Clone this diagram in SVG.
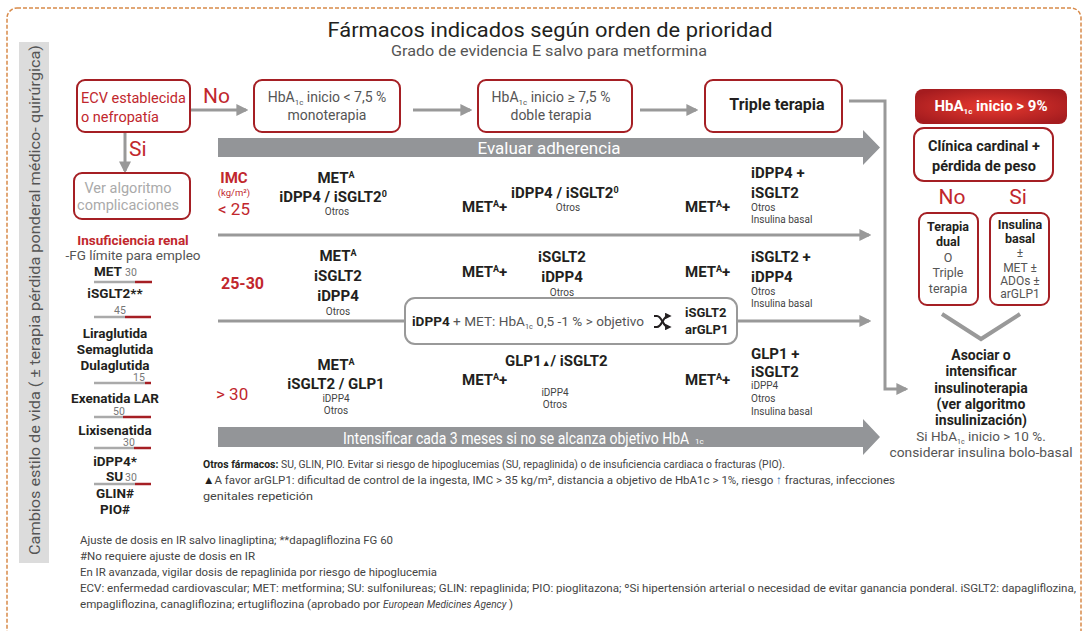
<svg xmlns="http://www.w3.org/2000/svg" width="1089" height="631" viewBox="0 0 1089 631">
<style>
text{font-family:Roboto,"Liberation Sans",sans-serif}
.bx{fill:#fff;stroke:#a51f24;stroke-width:2}
.b{font-weight:bold;fill:#231f20}
.g{fill:#555}
.r{fill:#c1272d}
.d{font-size:15px;font-weight:bold;fill:#231f20}
.s{font-size:10px;fill:#444}
.ln{stroke:#999;stroke-width:3;fill:none}
.fn{font-size:11.5px;fill:#444}
.rn{font-size:13.5px;font-weight:bold;fill:#231f20}
.nm{font-size:10.5px;fill:#777}
</style>
<defs>
<marker id="ah" viewBox="0 0 10 10" refX="8" refY="5" markerWidth="4" markerHeight="4" orient="auto">
<path d="M0,0 L10,5 L0,10 z" fill="#999"/>
</marker>
<marker id="ak" viewBox="0 0 10 10" refX="6" refY="5" markerWidth="3" markerHeight="3" orient="auto">
<path d="M0,0 L10,5 L0,10 z" fill="#231f20"/>
</marker>
<radialGradient id="rg" cx="0.5" cy="0.5" r="0.6">
<stop offset="0" stop-color="#e8392f"/>
<stop offset="1" stop-color="#a51c1f"/>
</radialGradient>
</defs>
<rect x="7" y="8" width="1074" height="640" rx="10" fill="none" stroke="#d88a4a" stroke-width="1.5" stroke-dasharray="4,2"/>
<g id="lifestyle">
<rect x="19" y="42" width="30" height="521" fill="#dcdcdc"/>
<text transform="translate(40,555) rotate(-90)" font-size="15" class="g" textLength="510" lengthAdjust="spacingAndGlyphs">Cambios estilo de vida ( ± terapia pérdida ponderal médico- quirúrgica)</text>
</g>
<g id="title">
<text x="550" y="37" font-size="21" text-anchor="middle" fill="#231f20" textLength="445" lengthAdjust="spacingAndGlyphs">Fármacos indicados según orden de prioridad</text>
<text x="549" y="56" font-size="14.5" text-anchor="middle" class="g" textLength="316" lengthAdjust="spacingAndGlyphs">Grado de evidencia E salvo para metformina</text>
</g>
<g id="connectors">
<line class="ln" x1="190" y1="110" x2="246" y2="110" marker-end="url(#ah)"/>
<line class="ln" x1="413" y1="110" x2="470" y2="110" marker-end="url(#ah)"/>
<line class="ln" x1="640" y1="110" x2="696" y2="110" marker-end="url(#ah)"/>
<line class="ln" x1="125" y1="132" x2="125" y2="171" marker-end="url(#ah)"/>
<polyline class="ln" points="849,101 885,101 885,389 906,389" marker-end="url(#ah)"/>
<line class="ln" x1="218" y1="235" x2="869" y2="235" marker-end="url(#ah)"/>
<line class="ln" x1="218" y1="321" x2="405" y2="321"/>
<line class="ln" x1="737" y1="321" x2="869" y2="321" marker-end="url(#ah)"/>
<polyline points="942,314 981,339 1020,314" fill="none" stroke="#999" stroke-width="4"/>
<polygon points="218,138 863,138 863,130 880,147.5 863,165 863,157 218,157" fill="#939598"/>
<text x="549" y="154" font-size="17" fill="#fff" text-anchor="middle">Evaluar adherencia</text>
<polygon points="218,427 863,427 863,419 880,437 863,455 863,447 218,447" fill="#939598"/>
<text transform="translate(343,444) scale(0.85,1)" font-size="16.5" fill="#fff">Intensificar cada 3 meses si no se alcanza objetivo HbA</text>
<text x="695" y="444" font-size="8" fill="#fff">1c</text>
</g>
<g id="ecv">
<rect class="bx" x="77" y="80" width="113" height="52" rx="8"/>
<text x="81" y="103" font-size="14.5" class="r">ECV establecida</text>
<text x="81" y="122" font-size="14.5" class="r">o nefropatía</text>
</g>
<text x="203" y="103" font-size="21" class="r">No</text>
<text x="129" y="156" font-size="21" class="r">Si</text>
<g id="complicaciones">
<rect class="bx" x="74" y="173" width="116" height="46" rx="8"/>
<text x="128" y="193" font-size="14.5" fill="#aaa" text-anchor="middle">Ver algoritmo</text>
<text x="128" y="210" font-size="14.5" fill="#aaa" text-anchor="middle">complicaciones</text>
</g>
<g id="monoterapia">
<rect class="bx" x="254" y="80" width="146" height="52" rx="8"/>
<text x="327" y="102" font-size="14" class="g" text-anchor="middle">HbA<tspan font-size="8" dy="3">1c</tspan><tspan dy="-3"> inicio &lt; 7,5 %</tspan></text>
<text x="327" y="120" font-size="14" class="g" text-anchor="middle">monoterapia</text>
</g>
<g id="doble">
<rect class="bx" x="478" y="80" width="154" height="52" rx="8"/>
<text x="551" y="102" font-size="14" class="g" text-anchor="middle">HbA<tspan font-size="8" dy="3">1c</tspan><tspan dy="-3"> inicio ≥ 7,5 %</tspan></text>
<text x="551" y="120" font-size="14" class="g" text-anchor="middle">doble terapia</text>
</g>
<g id="triple">
<rect class="bx" x="705" y="80" width="137" height="52" rx="8"/>
<text x="777" y="110" font-size="16" class="b" text-anchor="middle">Triple terapia</text>
</g>
<g id="imc">
<text x="234" y="183" font-size="15" class="r" font-weight="bold" text-anchor="middle">IMC</text>
<text x="234" y="196" font-size="9.5" class="r" text-anchor="middle">(kg/m²)</text>
<text x="234" y="215" font-size="17" class="r" text-anchor="middle">&lt; 25</text>
<text x="221" y="289" font-size="16" class="r" font-weight="bold">25-30</text>
<text x="216" y="400" font-size="17" class="r">&gt; 30</text>
</g>
<g id="row1">
<text x="336" y="183" class="d" text-anchor="middle">MET<tspan font-size="9" dy="-5">A</tspan></text>
<text x="333" y="202" class="d" text-anchor="middle">iDPP4 / iSGLT2<tspan font-size="9" dy="-5">0</tspan></text>
<text x="337" y="215" class="s" text-anchor="middle">Otros</text>
<text x="462" y="212" class="d">MET<tspan font-size="9" dy="-5">A</tspan><tspan dy="5">+</tspan></text>
<text x="511" y="198" class="d">iDPP4 / iSGLT2<tspan font-size="9" dy="-5">0</tspan></text>
<text x="568" y="211" class="s" text-anchor="middle">Otros</text>
<text x="685" y="212" class="d">MET<tspan font-size="9" dy="-5">A</tspan><tspan dy="5">+</tspan></text>
<text x="751" y="178" class="d">iDPP4 +</text>
<text x="751" y="198" class="d">iSGLT2</text>
<text x="751" y="211" class="s">Otros</text>
<text x="751" y="223" class="s">Insulina basal</text>
</g>
<g id="row2">
<text x="338" y="261" class="d" text-anchor="middle">MET<tspan font-size="9" dy="-5">A</tspan></text>
<text x="338" y="281" class="d" text-anchor="middle">iSGLT2</text>
<text x="338" y="301" class="d" text-anchor="middle">iDPP4</text>
<text x="338" y="315" class="s" text-anchor="middle">Otros</text>
<text x="462" y="277" class="d">MET<tspan font-size="9" dy="-5">A</tspan><tspan dy="5">+</tspan></text>
<text x="562" y="262" class="d" text-anchor="middle">iSGLT2</text>
<text x="562" y="282" class="d" text-anchor="middle">iDPP4</text>
<text x="562" y="296" class="s" text-anchor="middle">Otros</text>
<text x="685" y="277" class="d">MET<tspan font-size="9" dy="-5">A</tspan><tspan dy="5">+</tspan></text>
<text x="751" y="262" class="d">iSGLT2 +</text>
<text x="751" y="282" class="d">iDPP4</text>
<text x="751" y="295" class="s">Otros</text>
<text x="751" y="307" class="s">Insulina basal</text>
</g>
<g id="switch">
<rect x="405" y="298" width="332" height="46" rx="10" fill="#fff" stroke="#999" stroke-width="2"/>
<text x="412" y="326" font-size="13" class="g" textLength="232" lengthAdjust="spacingAndGlyphs"><tspan class="b">iDPP4</tspan> + MET: HbA<tspan font-size="7" dy="3">1c</tspan><tspan dy="-3"> 0,5 -1 % &gt; objetivo</tspan></text>
<path d="M654,316 L657,316 C662,316 663,327 668,327 L669,327" fill="none" stroke="#231f20" stroke-width="2.2" marker-end="url(#ak)"/>
<path d="M654,327 L657,327 C662,327 663,316 668,316 L669,316" fill="none" stroke="#231f20" stroke-width="2.2" marker-end="url(#ak)"/>
<text x="685" y="317" font-size="13" class="b">iSGLT2</text>
<text x="685" y="334" font-size="13" class="b">arGLP1</text>
</g>
<g id="row3">
<text x="336" y="370" class="d" text-anchor="middle">MET<tspan font-size="9" dy="-5">A</tspan></text>
<text x="336" y="389" class="d" text-anchor="middle">iSGLT2 / GLP1</text>
<text x="336" y="402" class="s" text-anchor="middle">iDPP4</text>
<text x="336" y="414" class="s" text-anchor="middle">Otros</text>
<text x="462" y="385" class="d">MET<tspan font-size="9" dy="-5">A</tspan><tspan dy="5">+</tspan></text>
<text x="505" y="366" class="d">GLP1<tspan font-size="9">▲</tspan>/ iSGLT2</text>
<text x="555" y="396" class="s" text-anchor="middle">iDPP4</text>
<text x="555" y="408" class="s" text-anchor="middle">Otros</text>
<text x="685" y="385" class="d">MET<tspan font-size="9" dy="-5">A</tspan><tspan dy="5">+</tspan></text>
<text x="751" y="359" class="d">GLP1 +</text>
<text x="751" y="377" class="d">iSGLT2</text>
<text x="751" y="389" class="s">iDPP4</text>
<text x="751" y="402" class="s">Otros</text>
<text x="751" y="415" class="s">Insulina basal</text>
</g>
<g id="renal">
<text x="133" y="245" font-size="13.5" class="r" font-weight="bold" text-anchor="middle">Insuficiencia renal</text>
<text x="133" y="260" font-size="13.5" class="g" text-anchor="middle">-FG límite para empleo</text>
<text x="94" y="276" class="rn">MET</text><text x="125" y="276" class="nm">30</text>
<line x1="94" y1="282" x2="135" y2="282" stroke="#aaa" stroke-width="2.5"/><line x1="135" y1="282" x2="152" y2="282" stroke="#a51f24" stroke-width="2.5"/>
<text x="115" y="298" class="rn" text-anchor="middle">iSGLT2**</text>
<text x="114" y="314" class="nm">45</text>
<line x1="94" y1="317" x2="125" y2="317" stroke="#aaa" stroke-width="2.5"/><line x1="125" y1="317" x2="151" y2="317" stroke="#a51f24" stroke-width="2.5"/>
<text x="115" y="338" class="rn" text-anchor="middle">Liraglutida</text>
<text x="115" y="354" class="rn" text-anchor="middle">Semaglutida</text>
<text x="115" y="370" class="rn" text-anchor="middle">Dulaglutida</text>
<text x="133" y="381" class="nm">15</text>
<line x1="94" y1="383" x2="145" y2="383" stroke="#aaa" stroke-width="2.5"/><line x1="145" y1="383" x2="151" y2="383" stroke="#a51f24" stroke-width="2.5"/>
<text x="115" y="403" class="rn" text-anchor="middle">Exenatida LAR</text>
<text x="113" y="415" class="nm">50</text>
<line x1="94" y1="417" x2="123" y2="417" stroke="#aaa" stroke-width="2.5"/><line x1="123" y1="417" x2="151" y2="417" stroke="#a51f24" stroke-width="2.5"/>
<text x="115" y="435" class="rn" text-anchor="middle">Lixisenatida</text>
<text x="123" y="446" class="nm">30</text>
<line x1="94" y1="448" x2="134" y2="448" stroke="#aaa" stroke-width="2.5"/><line x1="134" y1="448" x2="151" y2="448" stroke="#a51f24" stroke-width="2.5"/>
<text x="115" y="466" class="rn" text-anchor="middle">iDPP4*</text>
<text x="106" y="481" class="rn">SU</text><text x="125" y="481" class="nm">30</text>
<line x1="94" y1="484" x2="135" y2="484" stroke="#aaa" stroke-width="2.5"/><line x1="135" y1="484" x2="151" y2="484" stroke="#a51f24" stroke-width="2.5"/>
<text x="115" y="498" class="rn" text-anchor="middle">GLIN#</text>
<text x="115" y="514" class="rn" text-anchor="middle">PIO#</text>
</g>
<g id="hba9">
<rect x="915" y="89" width="152" height="35" rx="8" fill="url(#rg)"/>
<text x="991" y="111" font-size="15" fill="#fff" font-weight="bold" text-anchor="middle">HbA<tspan font-size="8" dy="3">1c</tspan><tspan dy="-3"> inicio &gt; 9%</tspan></text>
</g>
<g id="clinica">
<rect class="bx" x="914" y="128" width="139" height="53" rx="10"/>
<text x="984" y="151" font-size="14.5" class="b" text-anchor="middle">Clínica cardinal +</text>
<text x="984" y="171" font-size="14.5" class="b" text-anchor="middle">pérdida de peso</text>
</g>
<text x="952" y="204" font-size="21" class="r" text-anchor="middle">No</text>
<text x="1018" y="204" font-size="21" class="r" text-anchor="middle">Si</text>
<g id="dual">
<rect class="bx" x="919" y="213" width="59" height="92" rx="8"/>
<text x="948" y="231" font-size="12.5" class="b" text-anchor="middle">Terapia</text>
<text x="948" y="246" font-size="12.5" class="b" text-anchor="middle">dual</text>
<text x="948" y="262" font-size="12.5" class="g" text-anchor="middle">O</text>
<text x="948" y="277" font-size="12.5" class="g" text-anchor="middle">Triple</text>
<text x="948" y="293" font-size="12.5" class="g" text-anchor="middle">terapia</text>
</g>
<g id="insulina">
<rect class="bx" x="990" y="213" width="59" height="92" rx="8"/>
<text x="1020" y="229" font-size="12.5" class="b" text-anchor="middle">Insulina</text>
<text x="1020" y="243" font-size="12.5" class="b" text-anchor="middle">basal</text>
<text x="1020" y="257" font-size="12" class="g" text-anchor="middle">±</text>
<text x="1020" y="272" font-size="12" class="g" text-anchor="middle">MET ±</text>
<text x="1020" y="285" font-size="12" class="g" text-anchor="middle">ADOs ±</text>
<text x="1020" y="298" font-size="12" class="g" text-anchor="middle">arGLP1</text>
</g>
<g id="asociar">
<text x="981" y="360" font-size="14" class="b" text-anchor="middle">Asociar o</text>
<text x="981" y="376" font-size="14" class="b" text-anchor="middle">intensificar</text>
<text x="981" y="393" font-size="14" class="b" text-anchor="middle">insulinoterapia</text>
<text x="981" y="409" font-size="14" class="b" text-anchor="middle">(ver algoritmo</text>
<text x="981" y="425" font-size="14" class="b" text-anchor="middle">insulinización)</text>
<text x="981" y="441" font-size="13.5" class="g" text-anchor="middle">Si HbA<tspan font-size="7" dy="3">1c</tspan><tspan dy="-3"> inicio &gt; 10 %.</tspan></text>
<text x="981" y="457" font-size="13.5" class="g" text-anchor="middle" textLength="183" lengthAdjust="spacingAndGlyphs">considerar insulina bolo-basal</text>
</g>
<g id="notes">
<text x="203" y="468" class="fn" textLength="582" lengthAdjust="spacingAndGlyphs"><tspan font-weight="bold" fill="#231f20">Otros fármacos:</tspan> SU, GLIN, PIO. Evitar si riesgo de hipoglucemias (SU, repaglinida) o de insuficiencia cardiaca o fracturas (PIO).</text>
<text x="203" y="484" class="fn" textLength="692" lengthAdjust="spacingAndGlyphs"><tspan fill="#231f20">▲</tspan>A favor arGLP1: dificultad de control de la ingesta, IMC &gt; 35 kg/m², distancia a objetivo de HbA1c &gt; 1%, riesgo <tspan fill="#2a6fb0">↑</tspan> fracturas, infecciones</text>
<text x="203" y="500" class="fn" textLength="110" lengthAdjust="spacingAndGlyphs">genitales repetición</text>
<text x="80" y="544" class="fn" textLength="313" lengthAdjust="spacingAndGlyphs">Ajuste de dosis en IR salvo linagliptina; **dapagliflozina FG 60</text>
<text x="80" y="560" class="fn" textLength="175" lengthAdjust="spacingAndGlyphs">#No requiere ajuste de dosis en IR</text>
<text x="80" y="576" class="fn" textLength="357" lengthAdjust="spacingAndGlyphs">En IR avanzada, vigilar dosis de repaglinida por riesgo de hipoglucemia</text>
<text x="80" y="592" class="fn" textLength="996" lengthAdjust="spacingAndGlyphs">ECV: enfermedad cardiovascular; MET: metformina; SU: sulfonilureas; GLIN: repaglinida; PIO: pioglitazona; ºSi hipertensión arterial o necesidad de evitar ganancia ponderal. iSGLT2: dapagliflozina,</text>
<text x="80" y="608" class="fn" textLength="300" lengthAdjust="spacingAndGlyphs">empagliflozina, canagliflozina; ertugliflozina (aprobado por</text>
<text transform="translate(383,608) scale(0.88,1)" class="fn" font-style="italic">European Medicines Agency</text>
<text x="509" y="608" class="fn">)</text>
</g>
</svg>
